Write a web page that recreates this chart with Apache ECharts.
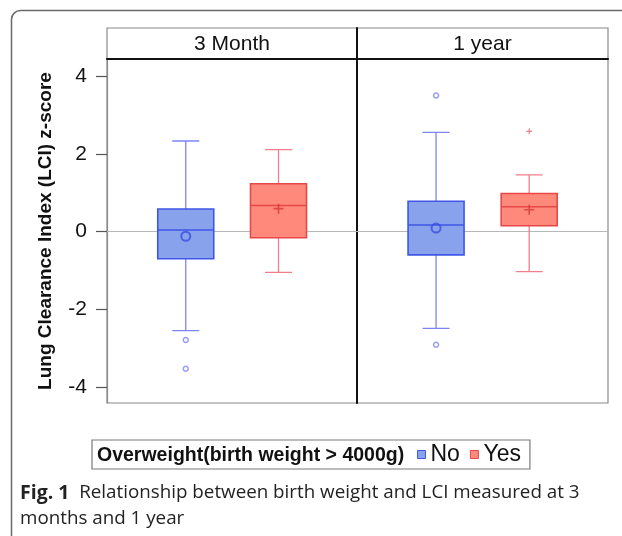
<!DOCTYPE html>
<html>
<head>
<meta charset="utf-8">
<script src="https://cdn.jsdelivr.net/npm/echarts@6/dist/echarts.min.js"></script>
<style>html,body{margin:0;padding:0;background:#fff}#c{width:622px;height:536px}</style>
</head>
<body>
<div id="c"></div>
<script>
// ---- data ----
const panels = ['3 Month', '1 year'];
const groups = ['No', 'Yes'];
// [lower whisker, Q1, median, Q3, upper whisker] per panel
const noBox  = [[-2.55, -0.70, 0.04, 0.58, 2.33], [-2.49, -0.60, 0.17, 0.78, 2.55]];
const yesBox = [[-1.05, -0.16, 0.67, 1.23, 2.11], [-1.03, 0.15, 0.64, 0.98, 1.46]];
const noMean  = [-0.12, 0.09];
const yesMean = [0.59, 0.56];
const noOutliers  = [[-2.79, -3.53], [3.50, -2.91]];
const yesOutliers = [[], [2.58]];
const yTicks = [-4, -2, 0, 2, 4];
const yTickLabels = ['-4', '-2', '0', '2', '4'];

// ---- layout / style ----
const FONT = 'Liberation Sans';
const slot = [0.315, 0.686];           // horizontal slot of each group inside a panel
const plotRects = [{left: 107, width: 250}, {left: 357, width: 251}];
const PLOT_TOP = 59, PLOT_H = 344, HEAD_TOP = 28, HEAD_H = 31;
const YMIN = -4.41, YMAX = 4.44;
const sty = {
  No:  {fill: '#88a3ec', border: '#3f57e6', whisker: '#7d86f4', mean: '#3a4ee2', out: '#8187f2'},
  Yes: {fill: '#ff8a7c', border: '#e64848', whisker: '#ef7f8a', mean: '#d83636', out: '#e2444c'}
};
const plusPath = 'path://M4.2,0h1.6v4.2h4.2v1.6h-4.2v4.2h-1.6v-4.2h-4.2v-1.6h4.2z';

const grid = [], xAxis = [], yAxis = [], series = [];
const hiddenX = (gi, extra) => Object.assign({type: 'value', gridIndex: gi, min: 0, max: 1, show: false}, extra || {});

// header strips
panels.forEach((p, i) => {
  grid.push({left: plotRects[i].left, width: plotRects[i].width, top: HEAD_TOP, height: HEAD_H,
             show: true, borderColor: '#8a8a8a', borderWidth: 1.2, backgroundColor: '#fff'});
  xAxis.push(hiddenX(i));
  yAxis.push({type: 'value', gridIndex: i, min: 0, max: 1, show: i === 1,
              axisLine: {show: true, lineStyle: {color: '#111', width: 2}},
              axisTick: {show: false}, axisLabel: {show: false}, splitLine: {show: false}});
  series.push({type: 'scatter', name: 'hdr' + i, xAxisIndex: xAxis.length - 1, yAxisIndex: i, data: [], silent: true});
});

// plot panels
panels.forEach((p, i) => {
  const gi = grid.length;
  grid.push({left: plotRects[i].left, width: plotRects[i].width, top: PLOT_TOP, height: PLOT_H,
             show: true, borderColor: '#8a8a8a', borderWidth: 1.2});
  const yi = yAxis.length;
  yAxis.push({
    type: 'value', gridIndex: gi, min: YMIN, max: YMAX,
    axisLine: {show: true, lineStyle: {color: i === 0 ? '#8a8a8a' : '#111', width: i === 0 ? 1.2 : 2}},
    axisTick: {show: i === 0, length: 11, lineStyle: {color: '#555', width: 1.2}, customValues: yTicks},
    axisLabel: {show: i === 0, margin: 20, fontSize: 21, fontFamily: FONT, color: '#111',
                customValues: yTicks, formatter: v => yTickLabels[yTicks.indexOf(Math.round(v))]},
    splitLine: {show: false},
    name: i === 0 ? 'Lung Clearance Index (LCI) z-score' : '',
    nameLocation: 'middle', nameGap: 52,
    nameTextStyle: {fontSize: 19, fontWeight: 'bold', fontFamily: FONT, color: '#111'}
  });
  // top axis line = thick separator under the header
  const topAxis = xAxis.length;
  xAxis.push({type: 'value', gridIndex: gi, min: 0, max: 1, position: 'top',
              axisLine: {show: true, onZero: false, lineStyle: {color: '#111', width: 2}},
              axisTick: {show: false}, axisLabel: {show: false}, splitLine: {show: false}});
  // zero reference line
  series.push({type: 'scatter', name: 'ref' + i, xAxisIndex: topAxis, yAxisIndex: yi, data: [], silent: true,
    markLine: {silent: true, symbol: 'none', label: {show: false}, z: 1,
               lineStyle: {color: '#b8b8b8', width: 1, type: 'solid'}, data: [{yAxis: 0}]}});

  groups.forEach((g, k) => {
    const b = (g === 'No' ? noBox : yesBox)[i];
    const s = sty[g];
    const x = slot[k];
    // whiskers with half-width caps
    const wAxis = xAxis.length; xAxis.push(hiddenX(gi));
    series.push({type: 'boxplot', name: g, xAxisIndex: wAxis, yAxisIndex: yi, boxWidth: [27, 27], z: 2,
      itemStyle: {color: s.whisker, borderColor: s.whisker, borderWidth: 1.3},
      emphasis: {disabled: true}, silent: true,
      data: [[x, b[0], b[2], b[2], b[2], b[4]]]});
    // box with median
    const bAxis = xAxis.length; xAxis.push(hiddenX(gi));
    series.push({type: 'boxplot', name: g, xAxisIndex: bAxis, yAxisIndex: yi, boxWidth: [56, 56], z: 3,
      itemStyle: {color: s.fill, borderColor: s.border, borderWidth: 1.6},
      emphasis: {disabled: true}, silent: true,
      data: [[x, b[1], b[1], b[2], b[3], b[3]]]});
    // mean
    const mean = (g === 'No' ? noMean : yesMean)[i];
    series.push({type: 'scatter', name: g + ' mean', xAxisIndex: bAxis, yAxisIndex: yi, z: 5, silent: true,
      symbol: g === 'No' ? 'circle' : plusPath, symbolSize: g === 'No' ? 9 : 10,
      itemStyle: g === 'No' ? {color: 'rgba(0,0,0,0)', borderColor: s.mean, borderWidth: 2} : {color: s.mean},
      data: [[x, mean]]});
    // outliers
    const outs = (g === 'No' ? noOutliers : yesOutliers)[i];
    series.push({type: 'scatter', name: g + ' outliers', xAxisIndex: bAxis, yAxisIndex: yi, z: 5, silent: true,
      symbol: g === 'No' ? 'circle' : plusPath, symbolSize: g === 'No' ? 5 : 6,
      itemStyle: g === 'No' ? {color: 'rgba(0,0,0,0)', borderColor: s.out, borderWidth: 1.5} : {color: s.out},
      data: outs.map(v => [x, v])});
  });
});

const chart = echarts.init(document.getElementById('c'), null, {renderer: 'canvas'});
chart.setOption({
  animation: false,
  backgroundColor: '#fff',
  grid, xAxis, yAxis, series,
  legend: {
    data: groups.map(g => ({name: g, itemStyle: {color: sty[g].fill, borderColor: sty[g].border, borderWidth: 1}})),
    left: 92, top: 440, orient: 'horizontal',
    icon: 'rect', itemWidth: 8, itemHeight: 8, itemGap: 10,
    textStyle: {fontSize: 23, fontFamily: FONT, color: '#111', padding: [0, 0, 0, 0]},
    borderColor: '#7a7a7a', borderWidth: 1.2, padding: [3, 9, 3, 325],
    selectedMode: false
  },
  graphic: [
    {type: 'rect', silent: true, z: -10,
     shape: {x: 11.5, y: 10.5, width: 660, height: 580, r: 9},
     style: {fill: 'none', stroke: '#6a6a6a', lineWidth: 1.5}},
    {type: 'text', silent: true, x: plotRects[0].left + plotRects[0].width / 2, y: HEAD_TOP + HEAD_H / 2 + 1,
     style: {text: panels[0], font: '21px "Liberation Sans"', fill: '#111', textAlign: 'center', textVerticalAlign: 'middle'}},
    {type: 'text', silent: true, x: plotRects[1].left + plotRects[1].width / 2, y: HEAD_TOP + HEAD_H / 2 + 1,
     style: {text: panels[1], font: '21px "Liberation Sans"', fill: '#111', textAlign: 'center', textVerticalAlign: 'middle'}},
    {type: 'text', silent: true, x: 97, y: 456,
     style: {text: 'Overweight(birth weight > 4000g)', font: 'bold 19.5px "Liberation Sans"', fill: '#111',
             textAlign: 'left', textVerticalAlign: 'middle'}},
    {type: 'text', silent: true, x: 20, y: 480,
     style: {text: '{b|Fig. 1}  Relationship between birth weight and LCI measured at 3\nmonths and 1 year',
             font: '18.8px "Open Sans"', fill: '#222', lineHeight: 26,
             rich: {b: {fontWeight: 'bold', fontSize: 19.5, fontFamily: 'Open Sans', fill: '#222', lineHeight: 26}}}}
  ]
});
</script>
</body>
</html>
